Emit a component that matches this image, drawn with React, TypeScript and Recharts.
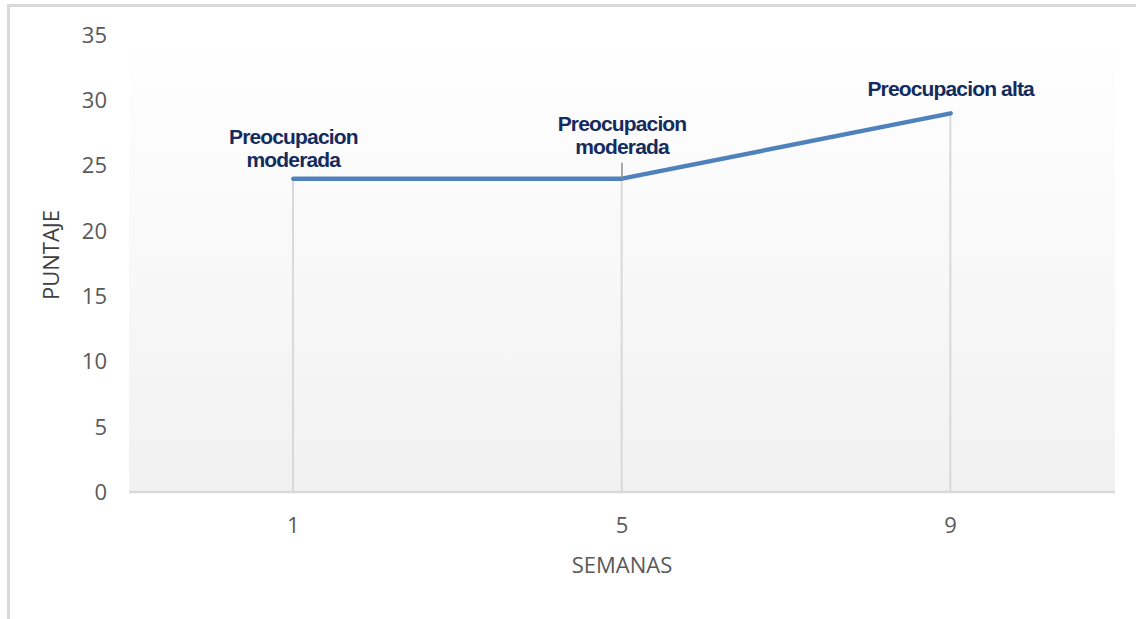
import React from 'react';
import { ComposedChart, Line, Bar, XAxis, YAxis, CartesianGrid, LabelList } from 'recharts';

const semanas = ['1', '5', '9'];
const puntaje = [24, 24, 29];
const niveles = [
  ['Preocupacion', 'moderada'],
  ['Preocupacion', 'moderada'],
  ['Preocupacion alta'],
];
const yTicks = [0, 5, 10, 15, 20, 25, 30, 35];

// label layout (distance from point to baseline of last line)
const labelLift = [12, 25, 17];

const data = semanas.map((s, i) => ({ semana: s, puntaje: puntaje[i], nivel: i }));

const tickFont = { fontFamily: '"Open Sans", sans-serif', fontSize: 22, fill: '#595959' };

const renderLabel = (props: any) => {
  const { x, y, index } = props;
  const lines = niveles[index];
  const lift = labelLift[index];
  const lh = 23;
  const baseLast = y - lift;
  return (
    <g>
      {lift > 20 && (
        <line x1={x} x2={x} y1={baseLast + 9} y2={y} stroke="#8c8c8c" strokeWidth={1.5} />
      )}
      {lines.map((t, k) => (
        <text
          key={k}
          x={x}
          y={baseLast - (lines.length - 1 - k) * lh}
          textAnchor="middle"
          fill="#142b5e"
          style={{ fontFamily: '"Liberation Sans", Arial, sans-serif', fontWeight: 700, fontSize: 21, letterSpacing: -0.85 }}
        >
          {t}
        </text>
      ))}
    </g>
  );
};

export default function App() {
  return (
    <div style={{ position: 'absolute', left: 0, top: 0, width: 1136, height: 619, background: '#fff', overflow: 'hidden' }}>
      <div style={{ position: 'absolute', left: 7, top: 4, width: 1200, height: 700, borderTop: '3px solid #d9d9d9', borderLeft: '3px solid #d9d9d9', boxSizing: 'border-box' }} />
      <div style={{ position: 'absolute', left: 0, top: 0 }}>
        <ComposedChart width={1136} height={619} data={data} margin={{ top: 35, right: 21, bottom: 67, left: 0 }} barCategoryGap={0}>
          <defs>
            <linearGradient id="plotBg" x1="0" y1="0" x2="0" y2="1">
              <stop offset="0%" stopColor="#ffffff" />
              <stop offset="100%" stopColor="#f1f1f1" />
            </linearGradient>
          </defs>
          <CartesianGrid horizontal={false} vertical={false} fill="url(#plotBg)" stroke="none" />
          <XAxis
            dataKey="semana"
            height={60}
            axisLine={{ stroke: '#d9d9d9', strokeWidth: 2.5 }}
            tickLine={false}
            tickSize={6}
            tickMargin={19}
            tick={tickFont}
            label={(p: any) => {
              const vb = p.viewBox || {};
              return (
                <text x={vb.x + vb.width / 2} y={vb.y + 81} textAnchor="middle" style={{ fontFamily: '"Open Sans", sans-serif', fontSize: 22 }} fill="#595959">
                  SEMANAS
                </text>
              );
            }}
          />
          <YAxis
            width={129}
            domain={[0, 35]}
            ticks={yTicks}
            axisLine={false}
            tickLine={false}
            tickSize={6}
            tickMargin={16}
            tick={tickFont}
            label={(p: any) => {
              const vb = p.viewBox || {};
              return (
                <text x={vb.x + 50} y={255} textAnchor="middle" dominantBaseline="central" transform={`rotate(-90, ${vb.x + 50}, 255)`} style={{ fontFamily: '"Open Sans", sans-serif', fontSize: 22 }} fill="#404040">
                  PUNTAJE
                </text>
              );
            }}
          />
          <Bar dataKey="puntaje" barSize={2} fill="#d9d9d9" isAnimationActive={false} />
          <Line
            dataKey="puntaje"
            stroke="#4f81bd"
            strokeWidth={4.5}
            strokeLinecap="round"
            strokeLinejoin="round"
            dot={false}
            activeDot={false}
            isAnimationActive={false}
          >
            <LabelList dataKey="nivel" content={renderLabel} />
          </Line>
        </ComposedChart>
      </div>
    </div>
  );
}
